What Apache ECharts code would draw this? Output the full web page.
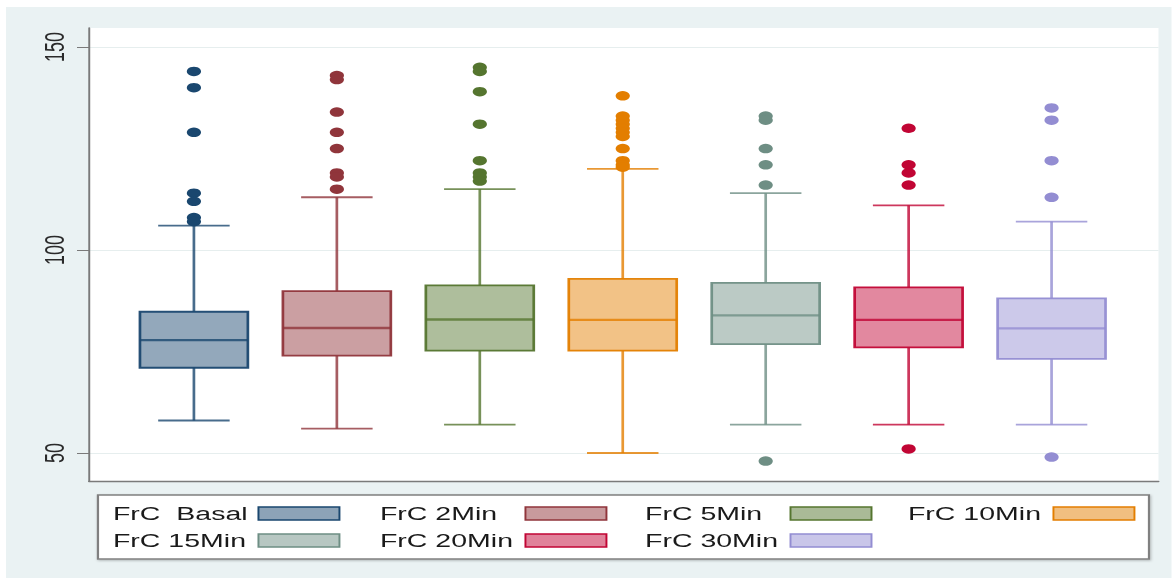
<!DOCTYPE html>
<html>
<head>
<meta charset="utf-8">
<title>FrC box plots</title>
<script src="https://cdn.jsdelivr.net/npm/echarts@6/dist/echarts.min.js"></script>
<style>
  html, body { margin: 0; padding: 0; background: #ffffff; overflow: hidden; }
  /* the figure is drawn at 2/3 width and widened 1.5x, giving its broad letterforms and oval dots */
  #chart { width: 781.333px; height: 578px; transform: scaleX(1.5); transform-origin: 0 0; }
</style>
</head>
<body>
<div id="chart"></div>
<script>
// Groups along the x axis
const categories = ['FrC  Basal', 'FrC 2Min', 'FrC 5Min', 'FrC 10Min', 'FrC 15Min', 'FrC 20Min', 'FrC 30Min'];

// Box statistics per group
const lowerWhisker = [58, 56, 57, 50, 57, 57, 57];
const lowerQuartile = [71, 74, 75.2, 75.2, 76.8, 76, 73.2];
const median = [77.8, 80.8, 82.9, 82.8, 83.9, 82.8, 80.7];
const upperQuartile = [84.8, 89.9, 91.3, 92.9, 91.9, 90.8, 88.1];
const upperWhisker = [106, 113, 115, 120, 114, 111, 107];

// Values outside the whiskers
const outliers = [
  [144, 140, 129, 114, 112, 108, 107],
  [143, 142, 134, 129, 125, 119, 118, 115],
  [145, 144, 139, 131, 122, 119, 118, 117],
  [138, 133, 132, 131, 130, 129, 128, 125, 122, 121, 120.4],
  [133, 132, 125, 121, 116, 48],
  [130, 121, 119, 116, 51],
  [135, 132, 122, 113, 49]
];

// Y axis tick labels
const yTicks = [50, 100, 150];

// Palette (line colour, box fill)
const lineColors = ['#1a476f', '#90353b', '#55752f', '#e37e00', '#6e8e84', '#c10534', '#938dd2'];
const fillColors = ['#8da3b7', '#c89a9d', '#aaba97', '#f1bf80', '#b7c7c2', '#e0829a', '#c9c6e9'];

// Legend columns (indices into categories), two rows
const legendColumns = [[0, 4], [1, 5], [2, 6], [3]];
const legendColumnLeft = [75.3, 253.3, 430, 605.3];

const FONT = '"Liberation Sans", Arial, Helvetica, sans-serif';
const BOX_FRAC = 0.755;
const CAP_FRAC = 0.5;

function boxRenderer(stroke, fill) {
  return function (params, api) {
    const x = api.value(0);
    const unit = api.size([1, 0])[0];
    const half = unit * BOX_FRAC / 2;
    const cap = unit * CAP_FRAC / 2;
    const at = (v) => api.coord([x, v]);
    const lo = at(api.value(1));
    const q1 = at(api.value(2));
    const md = at(api.value(3));
    const q3 = at(api.value(4));
    const hi = at(api.value(5));
    const cx = lo[0];
    const whisker = { stroke: stroke, lineWidth: 1.8, opacity: 0.8 };
    return {
      type: 'group',
      children: [
        { type: 'line', shape: { x1: cx, y1: hi[1], x2: cx, y2: q3[1] }, style: whisker },
        { type: 'line', shape: { x1: cx, y1: q1[1], x2: cx, y2: lo[1] }, style: whisker },
        { type: 'line', shape: { x1: cx - cap, y1: hi[1], x2: cx + cap, y2: hi[1] }, style: whisker },
        { type: 'line', shape: { x1: cx - cap, y1: lo[1], x2: cx + cap, y2: lo[1] }, style: whisker },
        { type: 'rect', shape: { x: cx - half, y: q3[1], width: 2 * half, height: q1[1] - q3[1] },
          style: { fill: fill, stroke: stroke, lineWidth: 1.8, opacity: 0.95 } },
        { type: 'line', shape: { x1: cx - half, y1: md[1], x2: cx + half, y2: md[1] },
          style: { stroke: stroke, lineWidth: 2.4, opacity: 0.8 } }
      ]
    };
  };
}

const series = [];
categories.forEach(function (name, i) {
  series.push({
    name: name,
    type: 'custom',
    renderItem: boxRenderer(lineColors[i], fillColors[i]),
    encode: { x: 0, y: [1, 2, 3, 4, 5] },
    data: [[i, lowerWhisker[i], lowerQuartile[i], median[i], upperQuartile[i], upperWhisker[i]]],
    itemStyle: { color: fillColors[i], borderColor: lineColors[i] },
    silent: true,
    z: 2
  });
  series.push({
    name: name,
    type: 'scatter',
    symbol: 'circle',
    symbolSize: 9.5,
    itemStyle: { color: lineColors[i], opacity: 1 },
    data: outliers[i].map(function (v) { return [i, v]; }),
    silent: true,
    z: 3
  });
});

const legends = legendColumns.map(function (col, c) {
  return {
    orient: 'vertical',
    left: legendColumnLeft[c],
    top: 504,
    padding: 0,
    align: 'right',
    itemWidth: 54,
    itemHeight: 13,
    itemGap: 8,
    selectedMode: false,
    icon: 'rect',
    formatter: function (n) { return '{t|' + n + '}'; },
    textStyle: {
      color: '#1a1a1a',
      fontFamily: FONT,
      fontSize: 19,
      rich: { t: { width: 92, align: 'left', fontFamily: FONT, fontSize: 19, lineHeight: 20, color: '#1a1a1a' } }
    },
    data: col.map(function (i) {
      return {
        name: categories[i],
        itemStyle: { color: fillColors[i], borderColor: lineColors[i], borderWidth: 1.3 }
      };
    })
  };
});

const chart = echarts.init(document.getElementById('chart'), null, { renderer: 'svg' });
chart.setOption({
  animation: false,
  backgroundColor: '#ffffff',
  graphic: {
    elements: [
      { type: 'rect', z: -10, shape: { x: 4, y: 7, width: 777.4, height: 571 },
        style: { fill: '#eaf2f3' } },
      { type: 'rect', z: -5, shape: { x: 65.3, y: 495, width: 700.7, height: 64 },
        style: { fill: '#ffffff', stroke: '#808080', lineWidth: 1.5,
                 shadowColor: 'rgba(0,0,0,0.25)', shadowBlur: 2, shadowOffsetX: 0.6, shadowOffsetY: 1 } }
    ]
  },
  grid: {
    left: 59.33, right: 8.67, top: 28, bottom: 97,
    show: true, backgroundColor: '#ffffff', borderWidth: 0
  },
  xAxis: {
    type: 'value',
    min: -0.734,
    max: 6.748,
    axisLine: { show: true, onZero: false, lineStyle: { color: '#7a7a7a', width: 1.4 } },
    axisTick: { show: false },
    axisLabel: { show: false },
    splitLine: { show: false }
  },
  yAxis: {
    type: 'value',
    min: 43.1,
    max: 154.7,
    axisLine: { show: true, onZero: false, lineStyle: { color: '#7a7a7a', width: 1.3 } },
    axisTick: { show: true, length: 8, customValues: yTicks, lineStyle: { color: '#7a7a7a', width: 1 } },
    axisLabel: {
      customValues: yTicks,
      rotate: 90,
      margin: 14,
      color: '#2a2a2a',
      fontFamily: FONT,
      fontSize: 18
    },
    splitLine: { show: true, lineStyle: { color: '#e6eeee', width: 1.2 } }
  },
  legend: legends,
  series: series
});
</script>
</body>
</html>
